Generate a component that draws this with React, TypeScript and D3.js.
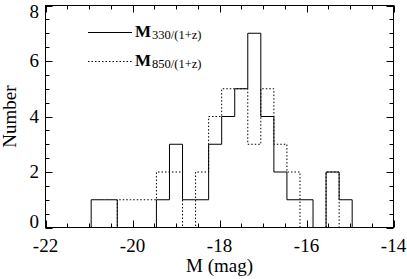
import React from 'react';
import * as d3 from 'd3';

// histogram bins (0.3 mag wide), centres in mag
const binCenters = [
  -20.8, -20.5, -20.2, -19.9, -19.6, -19.3, -19.0, -18.7, -18.4, -18.1,
  -17.8, -17.5, -17.2, -16.9, -16.6, -16.3, -16.0, -15.7, -15.4, -15.1,
];
const binWidth = 0.3;
const counts330 = [1, 1, 0, 0, 0, 1, 3, 1, 1, 3, 4, 5, 7, 4, 2, 1, 1, 0, 2, 1];
const counts850 = [0, 0, 1, 1, 1, 2, 2, 0, 2, 4, 5, 5, 3, 5, 3, 2, 0, 0, 2, 0];

const xTicks = [-22, -20, -18, -16, -14];
const yTicks = [0, 2, 4, 6, 8];
const xDomain: [number, number] = [-22, -14];
const yDomain: [number, number] = [0, 8];

const width = 407;
const height = 279;
const FONT = '"Liberation Serif", "DejaVu Serif", serif';

const App: React.FC = () => {
  const x = d3.scaleLinear().domain(xDomain).range([45.5, 393.5]);
  const y = d3.scaleLinear().domain(yDomain).range([227.5, 5.5]);
  const [x0, x1] = x.range();
  const [y0, y1] = y.range();

  const stepPath = (counts: number[]) => {
    const pts: [number, number][] = [[xDomain[0], 0]];
    binCenters.forEach((c, i) => pts.push([c - binWidth / 2, counts[i]]));
    pts.push([binCenters[binCenters.length - 1] + binWidth / 2, 0]);
    pts.push([xDomain[1], 0]);
    return d3
      .line<[number, number]>()
      .x(d => x(d[0]))
      .y(d => y(d[1]))
      .curve(d3.curveStepAfter)(pts) ?? '';
  };

  const xMinor = d3.range(xDomain[0], xDomain[1] + 0.001, 0.5);
  const yMinor = d3.range(yDomain[0], yDomain[1] + 0.001, 0.5);
  const major = 7;
  const minor = 4;

  return (
    <svg
      width={width}
      height={height}
      style={{ position: 'absolute', left: 0, top: 0, background: '#fff' }}
      fontFamily={FONT}
    >
      <rect width={width} height={height} fill="#fff" />

      {/* histograms */}
      <path d={stepPath(counts850)} fill="none" stroke="#000" strokeWidth={1} strokeDasharray="1.5 2" />
      <path d={stepPath(counts330)} fill="none" stroke="#000" strokeWidth={1} />

      {/* frame */}
      <rect x={x0} y={y1} width={x1 - x0} height={y0 - y1} fill="none" stroke="#000" strokeWidth={1} />

      {/* x ticks, inward top and bottom */}
      {xMinor.map(v => {
        const len = xTicks.includes(v) ? major : minor;
        const px = Math.round(x(v)) + 0.5;
        return (
          <g key={`xt${v}`} stroke="#000" strokeWidth={1}>
            <line x1={px} x2={px} y1={y0} y2={y0 - len} />
            <line x1={px} x2={px} y1={y1} y2={y1 + len} />
          </g>
        );
      })}
      {yMinor.map(v => {
        const len = yTicks.includes(v) ? major : minor;
        const py = Math.round(y(v)) + 0.5;
        return (
          <g key={`yt${v}`} stroke="#000" strokeWidth={1}>
            <line x1={x0} x2={x0 + len} y1={py} y2={py} />
            <line x1={x1} x2={x1 - len} y1={py} y2={py} />
          </g>
        );
      })}

      {/* tick labels */}
      {xTicks.map(v => (
        <text key={`xl${v}`} x={x(v)} y={252} textAnchor="middle" fontSize={19} fill="#000">
          {v}
        </text>
      ))}
      {yTicks.map((v, i) => {
        const shift = i === 0 ? -6 : i === yTicks.length - 1 ? 6 : 0;
        return (
          <text
            key={`yl${v}`}
            x={39}
            y={y(v) + shift}
            dy="0.34em"
            textAnchor="end"
            fontSize={19}
            fill="#000"
          >
            {v}
          </text>
        );
      })}

      {/* axis titles */}
      <text x={(x0 + x1) / 2} y={272} textAnchor="middle" fontSize={19} fill="#000">
        M (mag)
      </text>
      <text
        transform={`translate(16,${(y0 + y1) / 2}) rotate(-90)`}
        textAnchor="middle"
        fontSize={19}
        fill="#000"
      >
        Number
      </text>

      {/* legend */}
      <line x1={88} x2={132} y1={32.5} y2={32.5} stroke="#000" strokeWidth={1} />
      <text x={135} y={37} fontSize={17} fill="#000">
        <tspan fontWeight="bold">M</tspan>
        <tspan fontSize={12.5} dx={1} dy={2}>330/(1+z)</tspan>
      </text>
      <line x1={88} x2={132} y1={61.5} y2={61.5} stroke="#000" strokeWidth={1} strokeDasharray="1.5 2" />
      <text x={135} y={66} fontSize={17} fill="#000">
        <tspan fontWeight="bold">M</tspan>
        <tspan fontSize={12.5} dx={1} dy={2}>850/(1+z)</tspan>
      </text>
    </svg>
  );
};

export default App;
